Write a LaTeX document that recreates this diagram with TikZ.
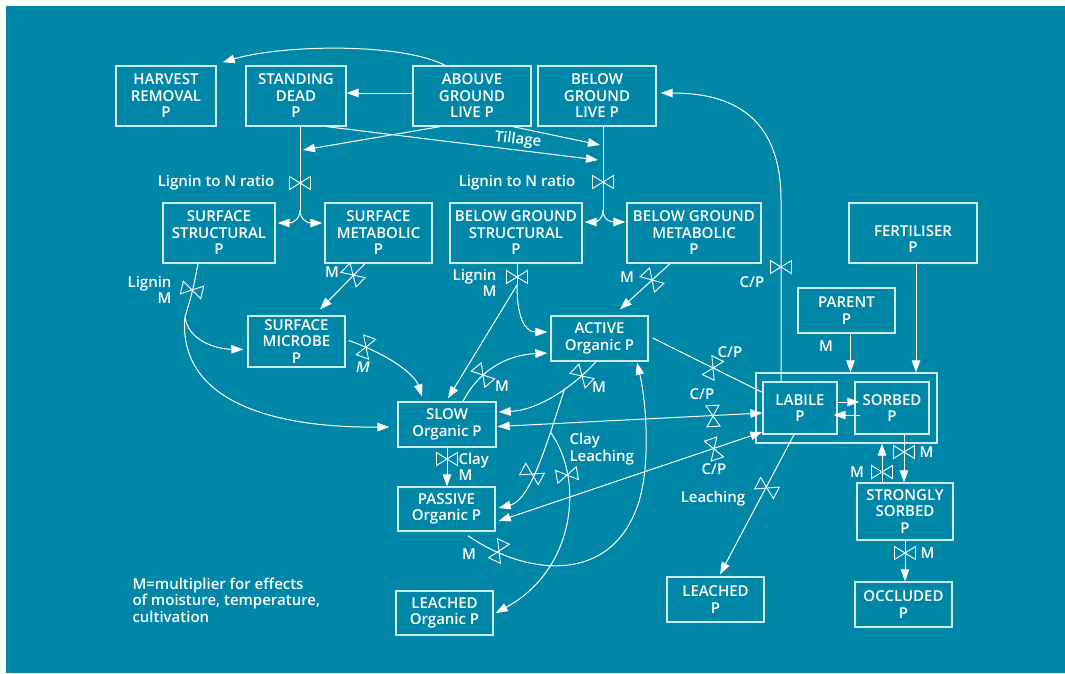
\documentclass[tikz,border=0pt]{standalone}
\usepackage{fontspec}
\usetikzlibrary{arrows.meta}
\IfFontExistsTF{Open Sans Semibold}
  {\setmainfont{Open Sans Semibold}\newfontfamily\itm{Open Sans Semibold}[FakeSlant=0.22]}
  {\setmainfont{Open Sans}[UprightFont={* Bold}]\newfontfamily\itm{Open Sans}[UprightFont={* Bold},FakeSlant=0.22]}
\definecolor{sea}{RGB}{0,135,168}
\definecolor{edge}{RGB}{205,236,243}
\tikzset{
  txt/.style={font=\fontsize{15}{16.5}\selectfont, text=white},
  box/.style={txt, draw=edge, line width=1.3pt, rectangle, inner sep=0pt, align=center},
  lab/.style={txt, inner sep=0pt},
  arr/.style={-{Triangle[length=12pt,width=8.5pt]}},
  arrs/.style={{Triangle[length=12pt,width=8.5pt]}-{Triangle[length=12pt,width=8.5pt]}},
  valve/.pic={\draw[-, white, line width=0.9pt]
      (-10.5,-6.5) -- (-10.5,6.5) -- (0,0) -- cycle
      (10.5,-6.5) -- (10.5,6.5) -- (0,0) -- cycle;}
}
\begin{document}
\begin{tikzpicture}[x=1pt, y=-1pt, line width=1pt, draw=white]
\useasboundingbox (0,0) rectangle (1065,673);
\fill[white] (0,0) rectangle (1065,673);
\fill[sea] (6,6) rectangle (1065,673);

% ---- pools ----
\node[box, minimum width=100, minimum height=60] (harvest) at (166,96) {HARVEST\\REMOVAL\\P};
\node[box, minimum width=100, minimum height=60] (standing) at (296,96) {STANDING\\DEAD\\P};
\node[box, minimum width=118, minimum height=60] (above) at (472,96) {ABOUVE\\GROUND\\LIVE P};
\node[box, minimum width=118, minimum height=60] (belowlive) at (597,96) {BELOW\\GROUND\\LIVE P};
\node[box, minimum width=112, minimum height=60] (surfstruct) at (219,233) {SURFACE\\STRUCTURAL\\P};
\node[box, minimum width=107, minimum height=60] (surfmet) at (378.5,233) {SURFACE\\METABOLIC\\P};
\node[box, minimum width=132, minimum height=60] (bgstruct) at (516,233) {BELOW GROUND\\STRUCTURAL\\P};
\node[box, minimum width=134, minimum height=60] (bgmet) at (694,233) {BELOW GROUND\\METABOLIC\\P};
\node[box, minimum width=128, minimum height=60] (fert) at (913,233) {};
\node[lab, align=center] (ferttext) at (913,239) {FERTILISER\\P};
\node[box, minimum width=97, minimum height=51] (microbe) at (296.5,341.5) {SURFACE\\MICROBE\\P};
\node[box, minimum width=97, minimum height=45] (parent) at (846.5,310.5) {PARENT\\P};
\node[box, minimum width=97, minimum height=45] (active) at (599.5,338.5) {ACTIVE\\Organic P};
\node[box, minimum width=98, minimum height=45] (slow) at (447,424.5) {SLOW\\Organic P};
\node[box, minimum width=181, minimum height=70] (pool) at (846.5,408) {};
\node[box, minimum width=74, minimum height=52] (labile) at (800,408) {LABILE\\P};
\node[box, minimum width=74, minimum height=52] (sorbed) at (892,408) {SORBED\\P};
\node[box, minimum width=97, minimum height=44] (passive) at (446.5,509) {PASSIVE\\Organic P};
\node[box, minimum width=97, minimum height=44] (leachorg) at (444.5,613) {LEACHED\\Organic P};
\node[box, minimum width=97, minimum height=45] (leachp) at (715.5,599.5) {LEACHED\\P};
\node[box, minimum width=96, minimum height=57] (strongly) at (905,511.5) {STRONGLY\\SORBED\\P};
\node[box, minimum width=97, minimum height=45] (occluded) at (903.5,604.5) {OCCLUDED\\P};

% ---- above ground flows ----
\draw[arr] ([xshift=-27]above.north) .. controls (400,42) and (280,45) .. ([xshift=6,yshift=3]harvest.north east);
\draw[arr] ([yshift=3]above.west) -- ([yshift=3]standing.east);
\coordinate (sdin) at (303,150);
\coordinate (bgin1) at (600,145);
\coordinate (bgin2) at (598,160);
\draw[arr] ([xshift=-32]above.south) -- (sdin);
\draw[arr] ([xshift=41]above.south) -- (bgin1);
\draw[arr] ([xshift=31]standing.south) -- node[lab, pos=0.7, sloped, above=2pt] (till) {Tillage} (bgin2);

% ---- residue splits ----
\coordinate (sfork) at (300,210);
\draw ([xshift=4]standing.south) -- (sfork);
\pic at (300,183) {valve};
\draw[arr] (sfork) .. controls (300,220) and (292,223) .. ([xshift=2,yshift=10]surfstruct.east);
\draw[arr] (sfork) .. controls (300,220) and (308,223) .. ([xshift=-2,yshift=10]surfmet.west);
\coordinate (bfork) at (603,210);
\draw ([xshift=6]belowlive.south) -- (bfork);
\pic at (603,182) {valve};
\draw[arr] (bfork) .. controls (603,220) and (595,222) .. ([xshift=2,yshift=11]bgstruct.east);
\draw[arr] (bfork) .. controls (603,220) and (611,222) .. ([xshift=-1,yshift=11]bgmet.west);

% ---- labile uptake to roots ----
\coordinate (lbup) at (781,200);
\draw[arr] ([xshift=-19]labile.north) -- (lbup) .. controls (781,115) and (730,93) .. ([xshift=4,yshift=3]belowlive.east);
\pic at (781,267) {valve};

% ---- surface decomposition ----
\coordinate (ssplit) at (185,317);
\draw ([xshift=-21]surfstruct.south) .. controls (193,290) .. (ssplit);
\pic[rotate=-13.5] at (192,290) {valve};
\draw[arr] (ssplit) .. controls (188,340) and (215,349) .. ([xshift=-4,yshift=-8]microbe.west);
\draw[arr] (ssplit) .. controls (178,395) and (260,428) .. ([xshift=-8,yshift=-2.5]slow.west);
\draw[arr] ([xshift=-13.5]surfmet.south) -- ([xshift=23.5,yshift=6]microbe.north);
\pic[rotate=-44] at (353,275) {valve};
\draw[arr] ([xshift=3,yshift=1]microbe.east) .. controls (390,355) and (415,375) .. ([xshift=-25,yshift=5]slow.north);
\pic[rotate=70] at (366,347) {valve};

% ---- below ground decomposition ----
\coordinate (bsplit) at (517,285);
\draw ([xshift=1]bgstruct.south) -- (bsplit);
\pic at (517,277) {valve};
\draw[arr] (bsplit) -- ([xshift=1,yshift=3]slow.north);
\draw[arr] (bsplit) .. controls (517,322) and (527,332) .. ([xshift=-3,yshift=6.5]active.west);
\draw[arr] ([xshift=-24]bgmet.south) -- ([xshift=20.5,yshift=6]active.north);
\pic[rotate=-47] at (652,280) {valve};

% ---- soil organic pools ----
\draw[arr] ([xshift=16]slow.north) .. controls (478,372) and (505,355) .. ([xshift=-3,yshift=-14.5]active.west);
\pic[rotate=-50] at (483,375) {valve};
\draw[arr] ([xshift=-3.5]active.south) .. controls (575,385) and (540,410) .. coordinate[pos=0.4] (j1) ([xshift=2,yshift=12.5]slow.east);
\pic[rotate=-44] at (582,376) {valve};
\draw[arr] (j1) .. controls (545,450) and (530,500) .. coordinate[pos=0.25] (j2) ([xshift=3,yshift=1]passive.east);
\pic[rotate=-28] at (532,474) {valve};
\draw[arr] (j2) .. controls (585,480) and (575,570) .. ([xshift=2]leachorg.east);
\pic[rotate=10] at (567,475) {valve};
\draw[arr] (slow.south) -- (slow.south |- passive.north);
\pic at (447,459) {valve};
\draw[arr] ([xshift=21.5,yshift=-4]passive.south) .. controls (520,572) and (605,588) .. (636,510)
   .. controls (652,470) and (646,400) .. ([xshift=37.5,yshift=-1]active.south);
\pic[rotate=65] at (499,551) {valve};

% ---- exchange with labile P ----
\draw ([xshift=4,yshift=0.5]active.east) -- ([yshift=-11]labile.north west);
\pic[rotate=63.6] at (713,368) {valve};
\draw[arrs] ([xshift=1,yshift=-2]slow.east) -- ([yshift=-5]labile.west);
\pic[rotate=93] at (713,416) {valve};
\draw[arrs] ([xshift=3,yshift=-12]passive.east) -- ([yshift=-24]labile.west);
\pic[rotate=108.6] at (714,449) {valve};
\draw[arr] ([xshift=-6]labile.south) -- ([xshift=4.5,yshift=2]leachp.north);
\pic[rotate=-27.4] at (767,488) {valve};

% ---- inorganic P ----
\draw[arr] ([xshift=-2,yshift=6]labile.east) -- ([xshift=5,yshift=6]sorbed.west);
\draw[arr] ([xshift=6,yshift=-7]sorbed.west) -- ([xshift=-4,yshift=-7]labile.east);
\coordinate (pt) at ([xshift=4]parent.south);
\draw[arr] (pt) -- (pt |- pool.north);
\coordinate (ft) at ([xshift=3]fert.south);
\draw[arr] (ft) -- (ft |- pool.north);
\coordinate (ss) at ([xshift=12]sorbed.south);
\draw[arr] (ss) -- (ss |- strongly.north);
\pic at (904,452) {valve};
\coordinate (su) at ([xshift=-23]strongly.north);
\draw[arr] (su) -- (su |- pool.south);
\pic at (882,472) {valve};
\draw[arr] (strongly.south) -- (strongly.south |- occluded.north);
\pic at (905,553) {valve};

% ---- labels ----
\node[lab] (l1) at (216,183) {Lignin to N ratio};
\node[lab] (l2) at (517,183) {Lignin to N ratio};
\node[lab] (l3) at (752,282) {C/P};
\node[lab, align=right, anchor=east] (l4) at (172,290) {Lignin\\M};
\node[lab] (l5) at (332,272) {M};
\node[lab] (l6) at (362,367) {\itm M};
\node[lab, align=right, anchor=east] (l7) at (497,283) {Lignin\\M};
\node[lab] (l8) at (627,277) {M};
\node[lab] (l9) at (502,386) {M};
\node[lab] (l10) at (599,387) {M};
\node[lab] (l11) at (730,352) {C/P};
\node[lab] (l12) at (702,394) {C/P};
\node[lab] (l13) at (714,469) {C/P};
\node[lab, align=left, anchor=west] (l14) at (458,467) {Clay\\M};
\node[lab, align=left, anchor=west] (l15) at (569,449) {Clay\\Leaching};
\node[lab] (l16) at (469,554) {M};
\node[lab] (l17) at (713,499) {Leaching};
\node[lab] (l18) at (826,346) {M};
\node[lab, anchor=west] (l19) at (919,452) {M};
\node[lab] (l20) at (857,472) {M};
\node[lab, anchor=west] (l21) at (920,553) {M};
\node[lab, align=left, anchor=west] (legend) at (132,600) {M=multiplier for effects\\of moisture, temperature,\\cultivation};
\end{tikzpicture}
\end{document}
